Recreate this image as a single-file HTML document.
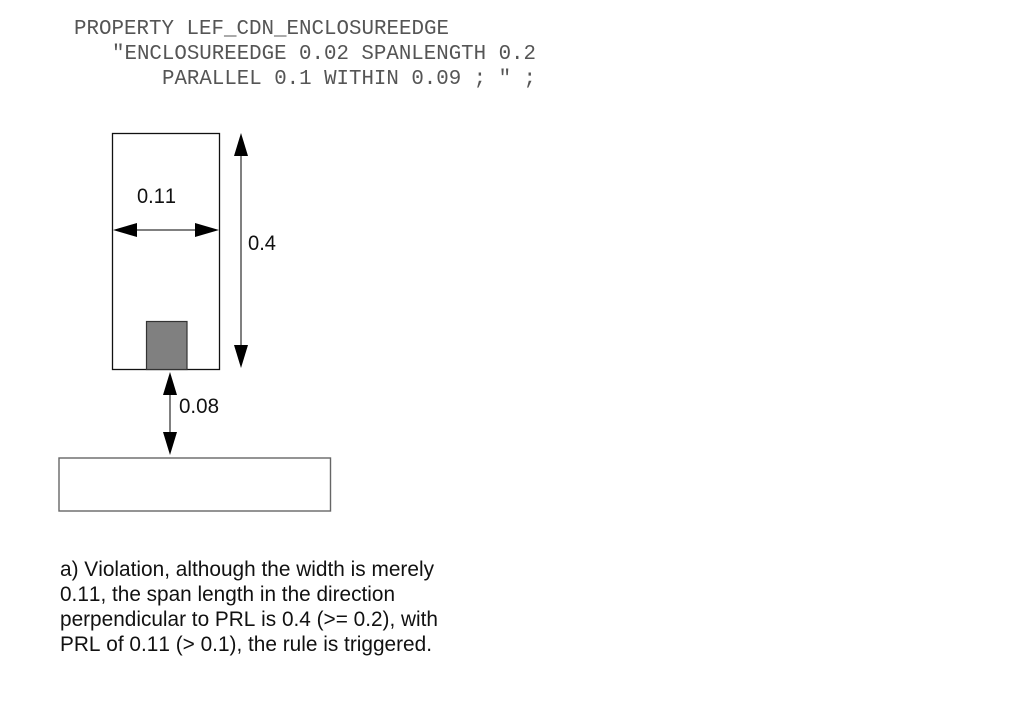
<!DOCTYPE html>
<html>
<head>
<meta charset="utf-8">
<style>
html,body{margin:0;padding:0;background:#fff;width:1013px;height:711px;overflow:hidden}
svg{display:block}
.m{font-family:"Liberation Mono",monospace;font-size:20.8px;fill:#555}
.s{font-family:"Liberation Sans",sans-serif;font-size:21px;fill:#111;font-kerning:none}
</style>
</head>
<body>
<svg width="1013" height="711" viewBox="0 0 1013 711" xmlns="http://www.w3.org/2000/svg">
<text class="m" x="74" y="34" textLength="375" lengthAdjust="spacingAndGlyphs">PROPERTY LEF_CDN_ENCLOSUREEDGE</text>
<text class="m" x="112" y="59" textLength="424" lengthAdjust="spacingAndGlyphs">"ENCLOSUREEDGE 0.02 SPANLENGTH 0.2</text>
<text class="m" x="162" y="84" textLength="374" lengthAdjust="spacingAndGlyphs">PARALLEL 0.1 WITHIN 0.09 ; " ;</text>

<rect x="112.5" y="133.5" width="107" height="236" fill="#fff" stroke="#111" stroke-width="1.3"/>
<rect x="146.5" y="321.5" width="40.5" height="48" fill="#808080" stroke="#333" stroke-width="1.2"/>
<rect x="59" y="458" width="271.5" height="53" fill="#fff" stroke="#666" stroke-width="1.4"/>

<line x1="135" y1="230" x2="197" y2="230" stroke="#808080" stroke-width="2"/>
<polygon points="113,230 137,223 137,237" fill="#000"/>
<polygon points="219,230 195,223 195,237" fill="#000"/>

<line x1="241" y1="155" x2="241" y2="346" stroke="#808080" stroke-width="2"/>
<polygon points="241,133 234,156 248,156" fill="#000"/>
<polygon points="241,368 234,345 248,345" fill="#000"/>

<line x1="170" y1="394" x2="170" y2="433" stroke="#808080" stroke-width="2"/>
<polygon points="170,372 163,395 177,395" fill="#000"/>
<polygon points="170,455 163,432 177,432" fill="#000"/>

<text class="s" x="137" y="203" textLength="39" lengthAdjust="spacingAndGlyphs">0.11</text>
<text class="s" x="248" y="250" textLength="28" lengthAdjust="spacingAndGlyphs">0.4</text>
<text class="s" x="179" y="413" textLength="40" lengthAdjust="spacingAndGlyphs">0.08</text>

<text class="s" x="60" y="576" textLength="374" lengthAdjust="spacingAndGlyphs">a) Violation, although the width is merely</text>
<text class="s" x="60" y="601" textLength="335" lengthAdjust="spacingAndGlyphs">0.11, the span length in the direction</text>
<text class="s" x="60" y="626" textLength="378" lengthAdjust="spacingAndGlyphs">perpendicular to PRL is 0.4 (&gt;= 0.2), with</text>
<text class="s" x="60" y="651" textLength="372" lengthAdjust="spacingAndGlyphs">PRL of 0.11 (&gt; 0.1), the rule is triggered.</text>
</svg>
</body>
</html>
